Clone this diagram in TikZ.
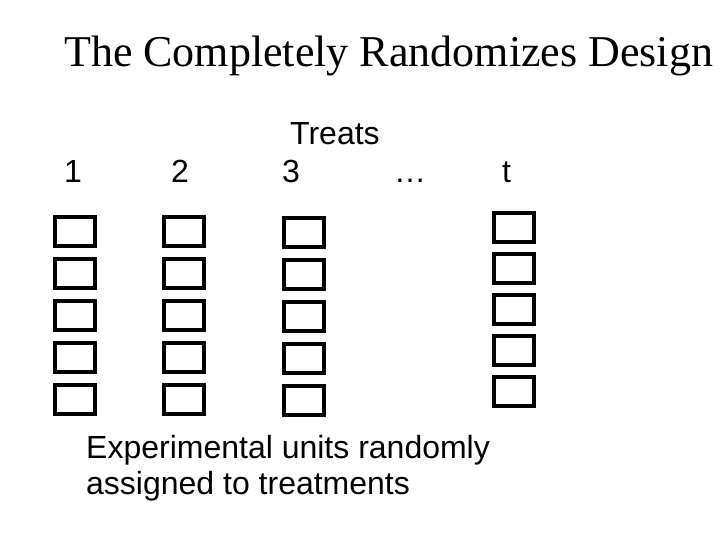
\documentclass[tikz,border=0pt]{standalone}
\usepackage{fontspec}
\setmainfont{Liberation Serif}
\setsansfont{Liberation Sans}

\begin{document}
\begin{tikzpicture}[
        x=1pt, y=-1pt,
        unit/.style={rectangle, draw, line width=4pt, minimum width=40pt, minimum height=29pt, inner sep=0pt},
        heading/.style={anchor=base west, inner sep=0pt, font=\fontsize{44}{48}\selectfont},
        treatname/.style={anchor=base west, inner sep=0pt, font=\sffamily\fontsize{32}{36}\selectfont},
        notetext/.style={anchor=base west, inner sep=0pt, font=\sffamily\fontsize{32}{36}\selectfont}
    ]
        \useasboundingbox (0,0) rectangle (720,540);

        % Title
        \node[heading] (title) at (64,67) {The Completely Randomizes Design};

        % Treatment names
        \node[treatname] (treats) at (290,145) {Treats};
        \node[treatname] (t1) at (64,183) {1};
        \node[treatname] (t2) at (171,183) {2};
        \node[treatname] (t3) at (282,183) {3};
        \node[treatname] (tdots) at (394,183) {\dots};
        \node[treatname] (tt) at (502,183) {t};

        % Experimental units, five per treatment
        \foreach \col/\cx/\cy/\pitch in {1/75/231.5/42, 2/183.5/231.5/42, 3/303.5/232.5/42, t/513.5/227.5/41} {
            \foreach \row in {1,...,5} {
                \node[unit] (u\col-\row) at (\cx, {\cy+\pitch*(\row-1)}) {};
            }
        }

        % Note below the units
        \node[notetext] (note1) at (86,458) {Experimental units randomly};
        \node[notetext] (note2) at ([yshift=-36pt]note1.base west) {assigned to treatments};

\end{tikzpicture}
\end{document}
